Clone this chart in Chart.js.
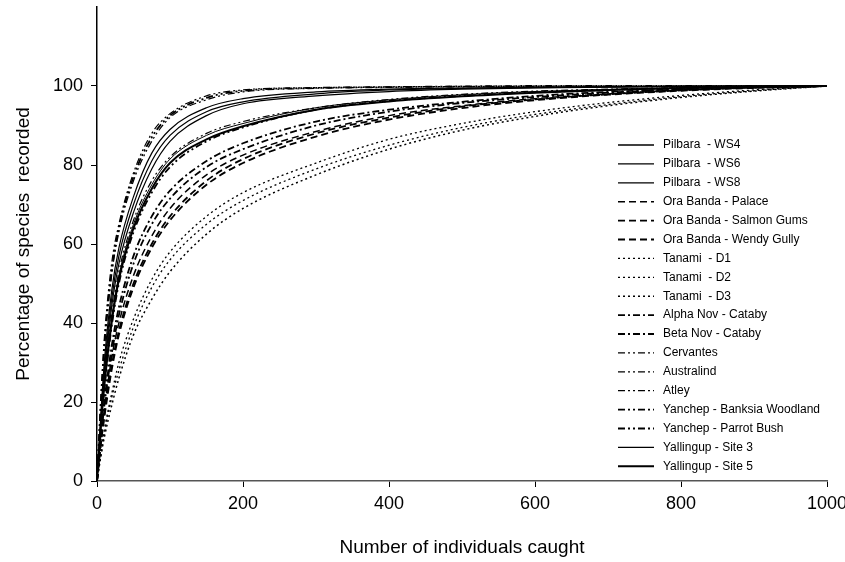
<!DOCTYPE html>
<html>
<head>
<meta charset="utf-8">
<script src="https://cdn.jsdelivr.net/npm/chart.js@4"></script>
<style>
  body { margin: 0; background: #fff; }
  #wrap { width: 845px; height: 562px; }
</style>
</head>
<body>
<div id="wrap"><canvas id="mainChart"></canvas></div>
<script>
// number of individuals caught (x positions of the read-off points)
const caught = [0, 5, 10, 20, 30, 50, 75, 100, 150, 200, 300, 400, 500, 600, 700, 800, 900, 1000];

// percentage of species recorded, one array per site
const pilbaraWS4 = [0, 16, 30, 48, 59, 72, 83, 89, 94.5, 96.8, 98.5, 99.2, 99.5, 99.7, 99.8, 99.9, 100, 100];
const pilbaraWS6 = [0, 15, 28, 46, 57, 70, 81, 87.5, 93.5, 96, 98, 99, 99.4, 99.6, 99.8, 99.9, 100, 100];
const pilbaraWS8 = [0, 14, 27, 44, 55, 68, 79, 86, 92.5, 95.5, 97.5, 98.6, 99.2, 99.5, 99.7, 99.9, 100, 100];
const oraPalace = [0, 10, 18, 31, 40, 52, 62, 69, 77.5, 82.5, 88.5, 92.5, 95, 96.8, 98, 99, 99.6, 100];
const oraSalmon = [0, 9, 17, 29, 38, 50, 60, 67, 76, 81.5, 88, 92, 94.8, 96.6, 97.9, 98.9, 99.6, 100];
const oraWendy = [0, 9, 16, 28, 37, 49, 59, 66, 75, 80.5, 87.2, 91.5, 94.4, 96.4, 97.8, 98.8, 99.5, 100];
const tanamiD1 = [0, 7, 13, 22, 30, 41, 51, 58, 67, 73, 80.5, 86.5, 90.5, 93.5, 95.8, 97.6, 99, 100];
const tanamiD2 = [0, 6, 12, 21, 28, 39, 49, 56, 65, 71, 79, 85, 89.5, 92.8, 95.3, 97.3, 98.8, 100];
const tanamiD3 = [0, 6, 11, 19, 26, 37, 46, 53, 62.5, 69, 77.5, 84, 88.8, 92.3, 95, 97.1, 98.7, 100];
const alphaNov = [0, 11, 20, 34, 44, 57, 67, 73.5, 81, 85.5, 91, 94, 96, 97.5, 98.5, 99.2, 99.7, 100];
const betaNov = [0, 10, 19, 32, 42, 55, 65, 71.5, 79.5, 84, 90, 93.5, 95.7, 97.2, 98.3, 99.1, 99.6, 100];
const cervantes = [0, 20, 36, 55, 65, 78, 88, 93, 97.5, 99, 99.6, 99.8, 99.9, 100, 100, 100, 100, 100];
const australind = [0, 14, 26, 42, 53, 66, 76, 82, 88, 91, 94.5, 96.6, 97.9, 98.7, 99.2, 99.6, 99.8, 100];
const atley = [0, 18, 33, 52, 63, 76, 86, 92, 96.5, 98.5, 99.4, 99.7, 99.8, 99.9, 100, 100, 100, 100];
const yanchepBanksia = [0, 19, 34, 53, 64, 77, 87, 92.5, 97, 98.8, 99.5, 99.7, 99.9, 100, 100, 100, 100, 100];
const yanchepParrot = [0, 12, 23, 39, 50, 63, 73, 79.5, 86, 89.5, 94, 96.2, 97.5, 98.4, 99, 99.5, 99.8, 100];
const yallingup3 = [0, 13, 25, 41, 52, 65, 75, 81.5, 87.5, 90.5, 94.5, 96.5, 97.8, 98.6, 99.1, 99.5, 99.8, 100];
const yallingup5 = [0, 13, 24, 40, 51, 64, 74, 80.5, 86.5, 89.8, 94, 96.1, 97.4, 98.3, 99, 99.5, 99.8, 100];

const yTicks = [0, 20, 40, 60, 80, 100];
const xTicks = [0, 200, 400, 600, 800, 1000];

// line styles
const SOLID = [];
const DASH = [7, 4];
const DOT = [2, 3];
const DASHDOT = [7, 3, 2, 3];
const DASHDOTDOT = [7, 3, 2, 3, 2, 3];

const series = [
  ["Pilbara  - WS4", pilbaraWS4, SOLID, 1.2],
  ["Pilbara  - WS6", pilbaraWS6, SOLID, 1.2],
  ["Pilbara  - WS8", pilbaraWS8, SOLID, 1.2],
  ["Ora Banda - Palace", oraPalace, DASH, 1.5],
  ["Ora Banda - Salmon Gums", oraSalmon, DASH, 1.8],
  ["Ora Banda - Wendy Gully", oraWendy, DASH, 1.8],
  ["Tanami  - D1", tanamiD1, DOT, 1.3],
  ["Tanami  - D2", tanamiD2, DOT, 1.3],
  ["Tanami  - D3", tanamiD3, DOT, 1.5],
  ["Alpha Nov - Cataby", alphaNov, DASHDOT, 1.8],
  ["Beta Nov - Cataby", betaNov, DASHDOT, 1.8],
  ["Cervantes", cervantes, DASHDOTDOT, 1.2],
  ["Australind", australind, DASHDOTDOT, 1.2],
  ["Atley", atley, DASHDOTDOT, 1.2],
  ["Yanchep - Banksia Woodland", yanchepBanksia, DASHDOTDOT, 1.8],
  ["Yanchep - Parrot Bush", yanchepParrot, DASHDOTDOT, 1.8],
  ["Yallingup - Site 3", yallingup3, SOLID, 1],
  ["Yallingup - Site 5", yallingup5, SOLID, 2]
];

const datasets = series.map(([label, vals, dash, w]) => ({
  label,
  data: caught.map((x, i) => ({ x, y: vals[i] })),
  borderColor: '#000',
  borderWidth: w,
  borderDash: dash,
  pointRadius: 0,
  fill: false,
  cubicInterpolationMode: 'monotone'
}));

// legend drawn inside the plot area, right side
const insideLegend = {
  id: 'insideLegend',
  afterDatasetsDraw(chart) {
    const ctx = chart.ctx;
    const x0 = 618, len = 36, tx = 663, y0 = 145, step = 18.9;
    ctx.save();
    ctx.font = '12px "Liberation Sans", Arial, sans-serif';
    ctx.fillStyle = '#000';
    ctx.textBaseline = 'middle';
    chart.data.datasets.forEach((ds, i) => {
      const y = y0 + i * step;
      ctx.beginPath();
      ctx.setLineDash(ds.borderDash);
      ctx.lineWidth = Math.max(ds.borderWidth, 1.3);
      ctx.strokeStyle = '#000';
      ctx.moveTo(x0, y);
      ctx.lineTo(x0 + len, y);
      ctx.stroke();
      ctx.setLineDash([]);
      ctx.fillText(ds.label, tx, y);
    });
    ctx.restore();
  }
};

const ctx = document.getElementById('mainChart').getContext('2d');
new Chart(ctx, {
  type: 'line',
  data: { datasets },
  plugins: [insideLegend],
  options: {
    responsive: true,
    maintainAspectRatio: false,
    animation: false,
    layout: { padding: { left: 0, right: 18, top: 7, bottom: 0 } },
    plugins: { legend: { display: false }, tooltip: { enabled: false } },
    scales: {
      x: {
        type: 'linear',
        min: 0,
        max: 1000,
        afterBuildTicks: (scale) => { scale.ticks = xTicks.map(v => ({ value: v })); },
        afterFit: (scale) => { scale.height = 81; scale.paddingLeft = 0; scale.paddingRight = 0; },
        border: { display: true, color: '#555', width: 1.5 },
        grid: { drawOnChartArea: false, drawTicks: true, tickLength: 6, color: '#000' },
        ticks: {
          color: '#000',
          padding: 6,
          maxRotation: 0,
          callback: (v) => String(v),
          font: { family: '"Liberation Sans", Arial, sans-serif', size: 18 }
        },
        title: {
          display: true,
          text: 'Number of individuals caught',
          color: '#000',
          padding: { top: 0, bottom: 3 },
          font: { family: '"Liberation Sans", Arial, sans-serif', size: 19 }
        }
      },
      y: {
        min: 0,
        max: 120,
        afterBuildTicks: (scale) => { scale.ticks = yTicks.map(v => ({ value: v })); },
        afterFit: (scale) => { scale.width = 97; scale.paddingTop = 0; scale.paddingBottom = 0; },
        border: { display: true, color: '#000', width: 1.5 },
        grid: { drawOnChartArea: false, drawTicks: true, tickLength: 6, color: '#000' },
        ticks: {
          color: '#000',
          padding: 8,
          callback: (v) => String(v),
          font: { family: '"Liberation Sans", Arial, sans-serif', size: 18 }
        },
        title: {
          display: true,
          text: 'Percentage of species  recorded',
          color: '#000',
          padding: { top: 12, bottom: 0 },
          font: { family: '"Liberation Sans", Arial, sans-serif', size: 19 }
        }
      }
    }
  }
});
</script>
</body>
</html>
